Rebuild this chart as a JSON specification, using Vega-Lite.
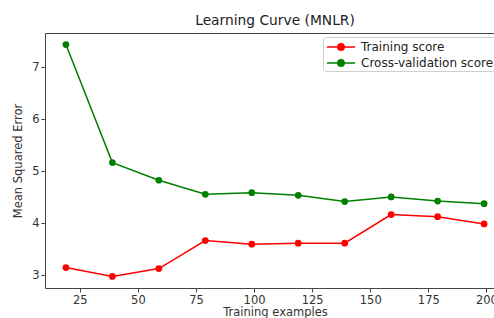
{
  "$schema": "https://vega.github.io/schema/vega-lite/v6.json",
  "width": 460,
  "height": 255,
  "autosize": {"type": "none"},
  "padding": {"left": 45, "top": 33, "right": 0, "bottom": 30},
  "background": "white",
  "title": {"text": "Learning Curve (MNLR)", "font": "DejaVu Sans", "fontSize": 13.8, "fontWeight": "normal", "color": "#222", "offset": 5, "anchor": "middle"},
  "config": {
    "view": {"stroke": "#444", "strokeWidth": 1},
    "axis": {"grid": false, "domain": false, "tickColor": "#444", "tickSize": 4, "labelFont": "DejaVu Sans", "labelFontSize": 11.5, "labelColor": "#333", "titleFont": "DejaVu Sans", "titleFontSize": 11.5, "titleFontWeight": "normal", "titleColor": "#333"}
  },
  "data": {"values": [
    {"n": 19, "score": 3.15, "series": "Training score"},
    {"n": 39, "score": 2.98, "series": "Training score"},
    {"n": 59, "score": 3.13, "series": "Training score"},
    {"n": 79, "score": 3.67, "series": "Training score"},
    {"n": 99, "score": 3.60, "series": "Training score"},
    {"n": 119, "score": 3.62, "series": "Training score"},
    {"n": 139, "score": 3.62, "series": "Training score"},
    {"n": 159, "score": 4.17, "series": "Training score"},
    {"n": 179, "score": 4.13, "series": "Training score"},
    {"n": 199, "score": 3.99, "series": "Training score"},
    {"n": 19, "score": 7.44, "series": "Cross-validation score"},
    {"n": 39, "score": 5.17, "series": "Cross-validation score"},
    {"n": 59, "score": 4.83, "series": "Cross-validation score"},
    {"n": 79, "score": 4.56, "series": "Cross-validation score"},
    {"n": 99, "score": 4.59, "series": "Cross-validation score"},
    {"n": 119, "score": 4.54, "series": "Cross-validation score"},
    {"n": 139, "score": 4.42, "series": "Cross-validation score"},
    {"n": 159, "score": 4.51, "series": "Cross-validation score"},
    {"n": 179, "score": 4.43, "series": "Cross-validation score"},
    {"n": 199, "score": 4.38, "series": "Cross-validation score"}
  ]},
  "mark": {"type": "line", "point": {"size": 45, "filled": true, "opacity": 1}, "strokeWidth": 1.5},
  "encoding": {
    "x": {"field": "n", "type": "quantitative", "scale": {"domain": [10, 208], "nice": false, "zero": false}, "axis": {"values": [25, 50, 75, 100, 125, 150, 175, 200], "title": "Training examples", "titlePadding": 1}},
    "y": {"field": "score", "type": "quantitative", "scale": {"domain": [2.757, 7.663], "nice": false, "zero": false}, "axis": {"values": [3, 4, 5, 6, 7], "title": "Mean Squared Error", "titlePadding": 8}},
    "color": {"field": "series", "type": "nominal", "scale": {"domain": ["Training score", "Cross-validation score"], "range": ["#ff0000", "#008000"]},
      "legend": {"title": null, "orient": "none", "legendX": 278, "legendY": 4, "labelFont": "DejaVu Sans", "labelFontSize": 12, "labelColor": "#222", "symbolType": "M-1.75,0H1.75M-0.4,0A0.4,0.4 0 1,0 0.4,0A0.4,0.4 0 1,0 -0.4,0", "symbolSize": 256, "symbolStrokeWidth": 1.5, "symbolOffset": 8, "fillColor": "white", "strokeColor": "#d0d0d0", "cornerRadius": 3, "padding": 1, "rowPadding": 0, "labelOffset": 11}}
  }
}
